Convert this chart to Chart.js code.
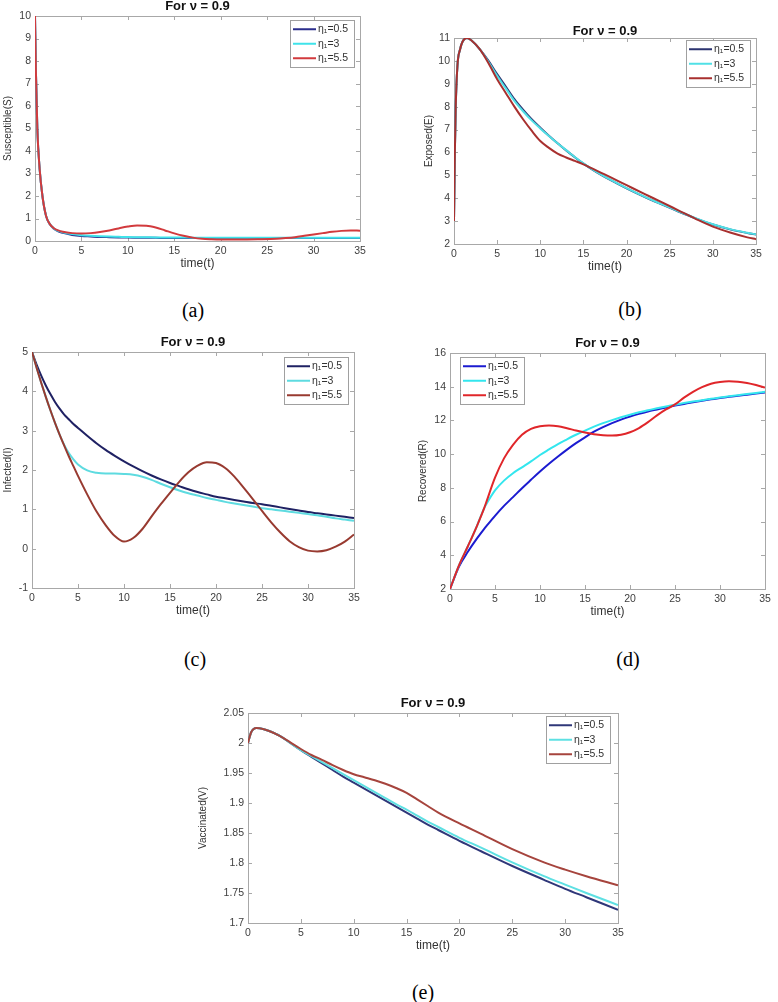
<!DOCTYPE html>
<html>
<head>
<meta charset="utf-8">
<script src="https://cdn.jsdelivr.net/npm/chart.js@4.4.1/dist/chart.umd.min.js"></script>
<style>
  body { margin: 0; background: #fff; }
  #page { position: relative; width: 778px; height: 1002px; overflow: hidden; background: #fff; }
  .panel { position: absolute; }
  .tag { position: absolute; font-family: 'Liberation Serif', 'Times New Roman', serif; font-size: 20px; color: #000; transform: translate(-50%, -50%); }
</style>
</head>
<body>
<div id="page"></div>
<script>
// legend labels, same for every panel
const seriesLabels = ['η₁=0.5', 'η₁=3', 'η₁=5.5'];

// (a) Susceptible
const tS = [0, 0.1, 0.25, 0.5, 0.8, 1.2, 1.6, 2, 2.5, 3, 4, 5, 6, 7, 8, 9, 10, 11, 12, 13, 14, 15, 16, 17, 18, 19, 20, 22, 24, 26, 27, 28, 29, 30, 31, 32, 33, 34, 35];
const susBlue = [10, 7.5, 5.0, 3.2, 2.0, 1.1, 0.74, 0.56, 0.43, 0.36, 0.27, 0.22, 0.2, 0.18, 0.17, 0.16, 0.15, 0.145, 0.14, 0.14, 0.135, 0.135, 0.13, 0.13, 0.13, 0.13, 0.13, 0.13, 0.13, 0.13, 0.13, 0.13, 0.13, 0.13, 0.13, 0.13, 0.13, 0.13, 0.13];
const susCyan = [10, 7.5, 5.0, 3.2, 2.0, 1.1, 0.75, 0.57, 0.45, 0.39, 0.31, 0.26, 0.23, 0.21, 0.195, 0.185, 0.175, 0.17, 0.165, 0.16, 0.16, 0.155, 0.155, 0.15, 0.15, 0.15, 0.15, 0.15, 0.15, 0.15, 0.15, 0.15, 0.15, 0.15, 0.15, 0.15, 0.15, 0.15, 0.15];
const susRed = [10, 7.5, 5.0, 3.2, 2.0, 1.1, 0.75, 0.58, 0.47, 0.41, 0.35, 0.33, 0.35, 0.4, 0.47, 0.56, 0.64, 0.69, 0.68, 0.6, 0.47, 0.34, 0.23, 0.15, 0.1, 0.08, 0.07, 0.07, 0.08, 0.1, 0.13, 0.17, 0.23, 0.29, 0.35, 0.41, 0.45, 0.47, 0.46];

// (b) Exposed
const tE = [0, 0.1, 0.2, 0.4, 0.7, 1, 1.5, 2, 3, 4, 5, 6, 7, 8, 9, 10, 11, 12, 13, 14, 15, 16, 17, 18, 20, 22, 24, 26, 28, 30, 32, 34, 35];
const expBlue = [3, 6, 8, 9.8, 10.5, 10.85, 11.0, 10.9, 10.5, 10.0, 9.42, 8.88, 8.33, 7.87, 7.45, 7.08, 6.73, 6.4, 6.09, 5.79, 5.51, 5.26, 5.03, 4.82, 4.43, 4.07, 3.74, 3.42, 3.12, 2.85, 2.64, 2.48, 2.41];
const expCyan = [3, 6, 8, 9.8, 10.5, 10.85, 11.0, 10.9, 10.5, 9.95, 9.35, 8.8, 8.25, 7.8, 7.4, 7.05, 6.72, 6.4, 6.1, 5.8, 5.52, 5.27, 5.04, 4.83, 4.44, 4.08, 3.75, 3.43, 3.13, 2.86, 2.65, 2.49, 2.42];
const expRed = [3, 6, 8, 9.8, 10.5, 10.85, 11.0, 10.9, 10.5, 9.9, 9.2, 8.6, 8.0, 7.45, 6.95, 6.5, 6.2, 5.95, 5.78, 5.63, 5.48, 5.3, 5.12, 4.94, 4.57, 4.2, 3.84, 3.47, 3.1, 2.76, 2.5, 2.29, 2.21];

// (c) Infected
const tI = [0, 0.5, 1, 1.5, 2, 2.5, 3, 3.5, 4, 4.5, 5, 6, 7, 8, 9, 10, 11, 12, 13, 14, 15, 16, 17, 18, 19, 20, 21, 22, 23, 24, 25, 26, 27, 28, 29, 30, 31, 32, 33, 34, 35];
const infBlue = [5, 4.68, 4.4, 4.15, 3.93, 3.73, 3.56, 3.41, 3.29, 3.17, 3.07, 2.87, 2.68, 2.51, 2.36, 2.22, 2.09, 1.97, 1.86, 1.76, 1.67, 1.59, 1.51, 1.44, 1.38, 1.32, 1.28, 1.24, 1.2, 1.16, 1.13, 1.09, 1.05, 1.01, 0.97, 0.93, 0.9, 0.87, 0.84, 0.81, 0.78];
const infCyan = [5, 4.6, 4.22, 3.86, 3.52, 3.2, 2.9, 2.64, 2.43, 2.27, 2.14, 1.99, 1.93, 1.91, 1.91, 1.9, 1.88, 1.83, 1.75, 1.65, 1.56, 1.48, 1.41, 1.35, 1.29, 1.24, 1.19, 1.15, 1.11, 1.07, 1.03, 1.0, 0.97, 0.94, 0.91, 0.88, 0.85, 0.81, 0.77, 0.74, 0.71];
const infRed = [5, 4.6, 4.22, 3.86, 3.52, 3.2, 2.9, 2.62, 2.35, 2.1, 1.85, 1.38, 0.95, 0.6, 0.32, 0.18, 0.27, 0.5, 0.82, 1.13, 1.42, 1.7, 1.94, 2.11, 2.2, 2.18, 2.05, 1.83, 1.55, 1.26, 0.96, 0.67, 0.41, 0.19, 0.04, -0.05, -0.07, -0.04, 0.05, 0.18, 0.36];

// (d) Recovered
const tR = [0, 1, 2, 3, 3.8, 4, 5, 6, 7, 8, 9, 10, 11, 12, 13, 14, 15, 16, 17, 18, 19, 20, 21, 22, 23, 24, 25, 26, 27, 28, 29, 30, 31, 32, 33, 34, 35];
const recBlue = [2, 3.33, 4.22, 5.0, 5.57, 5.7, 6.34, 6.93, 7.45, 7.98, 8.48, 8.97, 9.43, 9.86, 10.27, 10.65, 11.0, 11.33, 11.6, 11.84, 12.05, 12.23, 12.39, 12.53, 12.65, 12.77, 12.88, 12.98, 13.08, 13.17, 13.25, 13.33, 13.4, 13.47, 13.53, 13.59, 13.65];
const recCyan = [2, 3.4, 4.55, 5.75, 6.8, 7.0, 7.85, 8.43, 8.87, 9.22, 9.57, 9.95, 10.28, 10.6, 10.88, 11.15, 11.4, 11.63, 11.84, 12.02, 12.19, 12.34, 12.48, 12.6, 12.72, 12.83, 12.93, 13.03, 13.12, 13.2, 13.28, 13.36, 13.43, 13.5, 13.57, 13.63, 13.7];
const recRed = [2, 3.4, 4.55, 5.75, 6.8, 7.1, 8.6, 9.75, 10.55, 11.15, 11.5, 11.65, 11.7, 11.66, 11.54, 11.4, 11.28, 11.18, 11.12, 11.1, 11.15, 11.3, 11.55, 11.9, 12.3, 12.65, 12.95, 13.35, 13.7, 13.98, 14.18, 14.28, 14.32, 14.3, 14.22, 14.1, 13.95];

// (e) Vaccinated
const tV = [0, 0.3, 0.8, 1.5, 2, 3, 4, 5, 6, 7, 8, 9, 10, 11, 12, 13, 14, 15, 16, 17, 18, 20, 22, 25, 28, 30, 32, 35];
const vacBlue = [2.0, 2.018, 2.025, 2.023, 2.02, 2.012, 2.0, 1.988, 1.977, 1.966, 1.955, 1.944, 1.934, 1.924, 1.914, 1.904, 1.894, 1.884, 1.874, 1.864, 1.855, 1.837, 1.82, 1.795, 1.772, 1.757, 1.743, 1.722];
const vacCyan = [2.0, 2.018, 2.025, 2.023, 2.02, 2.012, 2.0, 1.988, 1.978, 1.968, 1.958, 1.948, 1.938, 1.928, 1.918, 1.908, 1.898, 1.889, 1.879, 1.869, 1.86, 1.842, 1.826, 1.801, 1.778, 1.764, 1.75, 1.73];
const vacRed = [2.0, 2.018, 2.025, 2.023, 2.02, 2.012, 2.001, 1.99, 1.98, 1.972, 1.963, 1.955, 1.948, 1.943, 1.938, 1.932, 1.925, 1.917, 1.906, 1.895, 1.884, 1.866, 1.849, 1.823, 1.801, 1.789, 1.778, 1.763];

const FONT = "'Liberation Sans', Arial, Helvetica, sans-serif";
Chart.defaults.font.family = FONT;
Chart.defaults.color = '#404040';

// matlab-like frame: grey box plus inward tick marks on all four sides
const framePlugin = {
  id: 'frame',
  beforeDatasetsDraw(chart) {
    const { ctx, chartArea: a, scales: { x, y } } = chart;
    ctx.save();
    ctx.strokeStyle = '#a8a8a8';
    ctx.lineWidth = 1;
    ctx.strokeRect(Math.round(a.left) + 0.5, Math.round(a.top) + 0.5, Math.round(a.right - a.left), Math.round(a.bottom - a.top));
    ctx.beginPath();
    x.ticks.forEach(tk => {
      const px = Math.round(x.getPixelForValue(tk.value)) + 0.5;
      ctx.moveTo(px, a.bottom); ctx.lineTo(px, a.bottom - 4);
      ctx.moveTo(px, a.top); ctx.lineTo(px, a.top + 4);
    });
    y.ticks.forEach(tk => {
      const py = Math.round(y.getPixelForValue(tk.value)) + 0.5;
      ctx.moveTo(a.left, py); ctx.lineTo(a.left + 4, py);
      ctx.moveTo(a.right, py); ctx.lineTo(a.right - 4, py);
    });
    ctx.stroke();
    ctx.restore();
  }
};

// legend box drawn inside the plot area
const insideLegend = {
  id: 'insideLegend',
  afterDatasetsDraw(chart, args, o) {
    const { ctx, chartArea: a } = chart;
    const sets = chart.data.datasets;
    ctx.save();
    ctx.font = '10.5px ' + FONT;
    const tw = Math.max(...sets.map(d => ctx.measureText(d.label).width));
    const w = Math.round(30 + tw + 4), rowH = 14.5, h = Math.round(sets.length * rowH + 3);
    const bx = Math.round(o.side === 'left' ? a.left + o.dx : a.right - o.dx - w);
    const by = Math.round(a.top + o.dy);
    ctx.fillStyle = '#fff';
    ctx.fillRect(bx, by, w, h);
    ctx.strokeStyle = '#a0a0a0';
    ctx.lineWidth = 1;
    ctx.strokeRect(bx + 0.5, by + 0.5, w, h);
    sets.forEach((d, i) => {
      const cy = by + 2 + rowH * (i + 0.5);
      ctx.strokeStyle = d.borderColor;
      ctx.lineWidth = 2;
      ctx.beginPath();
      ctx.moveTo(bx + 3, cy); ctx.lineTo(bx + 26, cy);
      ctx.stroke();
      ctx.fillStyle = '#333';
      ctx.textBaseline = 'middle';
      ctx.textAlign = 'left';
      ctx.fillText(d.label, bx + 28, cy);
    });
    ctx.restore();
  }
};

const page = document.getElementById('page');

function makePanel(box, p) {
  const [l, t, r, b] = box;            // plot area in page pixels
  const xH = 29, padR = 12;
  const titleH = 14 + p.titleGap;
  const div = document.createElement('div');
  div.className = 'panel';
  div.style.left = (l - p.yW) + 'px';
  div.style.top = (t - titleH) + 'px';
  div.style.width = (r - l + p.yW + padR) + 'px';
  div.style.height = (b - t + titleH + xH) + 'px';
  const cv = document.createElement('canvas');
  div.appendChild(cv);
  page.appendChild(div);

  new Chart(cv, {
    type: 'line',
    data: {
      datasets: p.series.map((s, i) => ({
        label: seriesLabels[i],
        data: p.t.map((x, k) => ({ x: x, y: s[k] })),
        borderColor: p.colors[i],
        borderWidth: 2,
        pointRadius: 0,
        fill: false,
        cubicInterpolationMode: 'monotone',
        order: 2 - i
      }))
    },
    options: {
      responsive: true,
      maintainAspectRatio: false,
      animation: false,
      layout: { padding: { top: 0, right: padR, bottom: 0, left: 0 } },
      plugins: {
        legend: { display: false },
        tooltip: { enabled: false },
        title: {
          display: true,
          text: 'For ν = 0.9',
          fullSize: false,
          color: '#111',
          font: { size: 13, weight: 'bold', lineHeight: 1 },
          padding: { top: 1, bottom: p.titleGap }
        },
        insideLegend: p.legend
      },
      scales: {
        x: {
          type: 'linear',
          min: 0, max: 35,
          border: { display: false },
          grid: { display: false, drawTicks: false },
          ticks: { stepSize: 5, padding: 4, maxRotation: 0, autoSkip: false, font: { size: 10.5 } },
          title: { display: true, text: 'time(t)', color: '#333', font: { size: 12, lineHeight: 1 }, padding: 0 },
          afterFit(s) { s.height = xH; s.paddingLeft = 0; s.paddingRight = 0; }
        },
        y: {
          min: p.yMin, max: p.yMax,
          border: { display: false },
          grid: { display: false, drawTicks: false },
          ticks: {
            stepSize: p.yStep, padding: 4, autoSkip: false, font: { size: 10.5 },
            callback: v => String(+v.toFixed(2))
          },
          title: { display: true, text: p.yTitle, color: '#333', font: { size: 10, lineHeight: 1 }, padding: 0 },
          afterFit(s) { s.width = p.yW; s.paddingTop = 0; s.paddingBottom = 0; }
        }
      }
    },
    plugins: [framePlugin, insideLegend]
  });

  const tag = document.createElement('div');
  tag.className = 'tag';
  tag.textContent = p.tag[0];
  tag.style.left = p.tag[1] + 'px';
  tag.style.top = p.tag[2] + 'px';
  page.appendChild(tag);
}

makePanel([35, 16, 360, 241], {
  t: tS, series: [susBlue, susCyan, susRed],
  colors: ['#2b2e8c', '#3fe3ea', '#d23a3d'],
  yMin: 0, yMax: 10, yStep: 1, yTitle: 'Susceptible(S)', yW: 32, titleGap: 3,
  legend: { side: 'right', dx: 6, dy: 4 }, tag: ['(a)', 193, 310]
});

makePanel([454, 38, 756, 244], {
  t: tE, series: [expBlue, expCyan, expRed],
  colors: ['#2d3470', '#50e0e6', '#a8302f'],
  yMin: 2, yMax: 11, yStep: 1, yTitle: 'Exposed(E)', yW: 30, titleGap: 0,
  legend: { side: 'right', dx: 6, dy: 2 }, tag: ['(b)', 630, 309]
});

makePanel([32, 352, 354, 588], {
  t: tI, series: [infBlue, infCyan, infRed],
  colors: ['#1f2163', '#5edbe0', '#983a30'],
  yMin: -1, yMax: 5, yStep: 1, yTitle: 'Infected(I)', yW: 29, titleGap: 3,
  legend: { side: 'right', dx: 6, dy: 5 }, tag: ['(c)', 195, 659]
});

makePanel([450, 353, 765, 589], {
  t: tR, series: [recBlue, recCyan, recRed],
  colors: ['#1b1bd0', '#33e6ee', '#e0262a'],
  yMin: 2, yMax: 16, yStep: 2, yTitle: 'Recovered(R)', yW: 32, titleGap: 3,
  legend: { side: 'left', dx: 10, dy: 4 }, tag: ['(d)', 628, 659]
});

makePanel([248, 713, 618, 923], {
  t: tV, series: [vacBlue, vacCyan, vacRed],
  colors: ['#2f3779', '#5ee0e3', '#a6443d'],
  yMin: 1.7, yMax: 2.05, yStep: 0.05, yTitle: 'Vaccinated(V)', yW: 50, titleGap: 3,
  legend: { side: 'right', dx: 8, dy: 3 }, tag: ['(e)', 423, 992]
});
</script>
</body>
</html>
